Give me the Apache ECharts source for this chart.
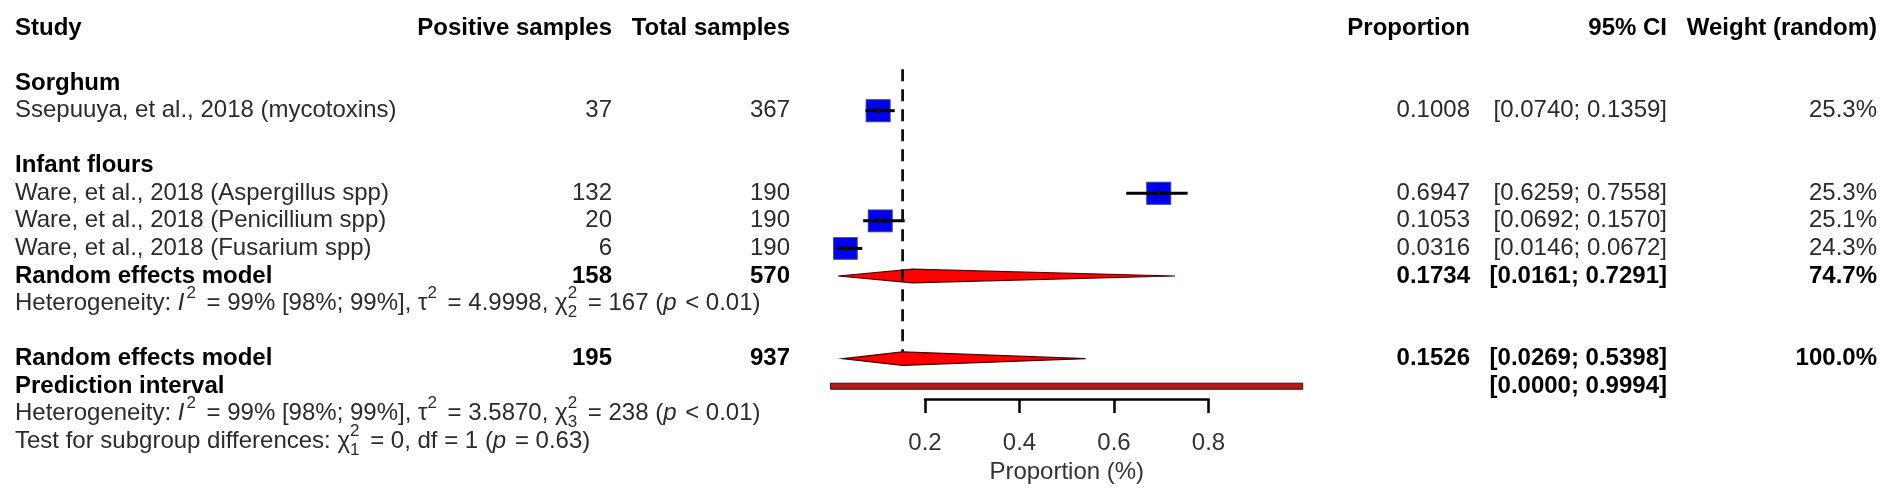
<!DOCTYPE html>
<html>
<head>
<meta charset="utf-8">
<script src="https://cdn.jsdelivr.net/npm/echarts@6/dist/echarts.min.js"></script>
<style>
  html, body { margin: 0; padding: 0; background: #fff; }
  #forest { width: 1902px; height: 490px; }
</style>
</head>
<body>
<div id="forest"></div>
<script>
// study level data
var studies = ['Ssepuuya, et al., 2018 (mycotoxins)', 'Ware, et al., 2018 (Aspergillus spp)',
  'Ware, et al., 2018 (Penicillium spp)', 'Ware, et al., 2018 (Fusarium spp)'];
var studyRows = [3, 6, 7, 8];
var positives = [37, 132, 20, 6];
var totals = [367, 190, 190, 190];
var proportions = [0.1008, 0.6947, 0.1053, 0.0316];
var ciLower = [0.0740, 0.6259, 0.0692, 0.0146];
var ciUpper = [0.1359, 0.7558, 0.1570, 0.0672];
var weights = [25.3, 25.3, 25.1, 24.3];

var subgroups = ['Sorghum', 'Infant flours'];
var subgroupRows = [2, 5];

// pooled (random effects) estimates: subgroup, overall
var pooledRows = [9, 12];
var pooledPositives = [158, 195];
var pooledTotals = [570, 937];
var pooledProp = [0.1734, 0.1526];
var pooledLower = [0.0161, 0.0269];
var pooledUpper = [0.7291, 0.5398];
var pooledWeights = [74.7, 100.0];

var predRow = 13;
var predLower = 0.0000;
var predUpper = 0.9994;

// heterogeneity lines (subgroup, overall)
var hetRows = [10, 14];
var hetI2 = ['99%', '99%'];
var hetI2ci = ['98%; 99%', '98%; 99%'];
var hetTau2 = ['4.9998', '3.5870'];
var hetChi = [167, 238];
var hetDf = [2, 3];
var subgroupTest = { row: 15, chi: 0, df: 1, p: '0.63' };

var headers = ['Study', 'Positive samples', 'Total samples', 'Proportion', '95% CI', 'Weight (random)'];
var xTicks = [0.2, 0.4, 0.6, 0.8];

// layout
var FONT = 'Liberation Sans';
var FS = 24, FS_SMALL = 17;
var PLOT_LEFT = 830.5, PLOT_W = 472.5;
var COL = { study: 15, pos: 612, tot: 790, prop: 1470, ci: 1667, weight: 1877 };

var ctx = document.createElement('canvas').getContext('2d');
function segFont(s) {
  var size = (s.k === 'sup' || s.k === 'sub' || s.k === 'ss') ? FS_SMALL : FS;
  return {
    fontSize: size,
    fontWeight: s.b ? 'bold' : 'normal',
    fontStyle: s.k === 'i' ? 'italic' : 'normal'
  };
}
function segWidth(s) {
  var f = segFont(s);
  ctx.font = f.fontStyle + ' ' + f.fontWeight + ' ' + f.fontSize + 'px "' + FONT + '"';
  var w = s.k === 'ss'
    ? Math.max(ctx.measureText(s.t[0]).width, ctx.measureText(s.t[1]).width)
    : ctx.measureText(s.t).width;
  return w + (s.pad || 0);
}

var lines = [];
function addLine(row, x, align, segs, bold) {
  segs.forEach(function (s) { s.b = !!bold; });
  lines.push({ row: row, x: x, align: align, segs: segs });
}
function n(t) { return { t: t, k: 'n' }; }
function it(t) { return { t: t, k: 'i', pad: 2 }; }
function sup(t) { return { t: t, k: 'sup', pad: 4 }; }
function supsub(a, b) { return { t: [a, b], k: 'ss', pad: 4 }; }
function fmt(v) { return v.toFixed(4); }
function ci(lo, hi) { return '[' + fmt(lo) + '; ' + fmt(hi) + ']'; }

// header row
var headerCols = [COL.study, COL.pos, COL.tot, COL.prop, COL.ci, COL.weight];
headers.forEach(function (h, i) {
  addLine(0, headerCols[i], i === 0 ? 'left' : 'right', [n(h)], true);
});
subgroups.forEach(function (g, i) { addLine(subgroupRows[i], COL.study, 'left', [n(g)], true); });
studies.forEach(function (s, i) {
  var r = studyRows[i];
  addLine(r, COL.study, 'left', [n(s)]);
  addLine(r, COL.pos, 'right', [n(String(positives[i]))]);
  addLine(r, COL.tot, 'right', [n(String(totals[i]))]);
  addLine(r, COL.prop, 'right', [n(fmt(proportions[i]))]);
  addLine(r, COL.ci, 'right', [n(ci(ciLower[i], ciUpper[i]))]);
  addLine(r, COL.weight, 'right', [n(weights[i].toFixed(1) + '%')]);
});
pooledRows.forEach(function (r, i) {
  addLine(r, COL.study, 'left', [n('Random effects model')], true);
  addLine(r, COL.pos, 'right', [n(String(pooledPositives[i]))], true);
  addLine(r, COL.tot, 'right', [n(String(pooledTotals[i]))], true);
  addLine(r, COL.prop, 'right', [n(fmt(pooledProp[i]))], true);
  addLine(r, COL.ci, 'right', [n(ci(pooledLower[i], pooledUpper[i]))], true);
  addLine(r, COL.weight, 'right', [n(pooledWeights[i].toFixed(1) + '%')], true);
});
addLine(predRow, COL.study, 'left', [n('Prediction interval')], true);
addLine(predRow, COL.ci, 'right', [n(ci(predLower, predUpper))], true);
hetRows.forEach(function (r, i) {
  addLine(r, COL.study, 'left', [
    n('Heterogeneity: '), it('I'), sup('2'),
    n(' = ' + hetI2[i] + ' [' + hetI2ci[i] + '], \u03c4'), sup('2'),
    n(' = ' + hetTau2[i] + ', \u03c7'), supsub('2', String(hetDf[i])),
    n(' = ' + hetChi[i] + ' ('), it('p'), n(' < 0.01)')
  ]);
});
addLine(subgroupTest.row, COL.study, 'left', [
  n('Test for subgroup differences: \u03c7'), supsub('2', String(subgroupTest.df)),
  n(' = ' + subgroupTest.chi + ', df = ' + subgroupTest.df + ' ('), it('p'),
  n(' = ' + subgroupTest.p + ')')
]);

function textEl(x, y, t, f, color) {
  return {
    type: 'text', x: x, y: y,
    style: {
      text: t, fontFamily: FONT, fontSize: f.fontSize, fontWeight: f.fontWeight,
      fontStyle: f.fontStyle, fill: color, align: 'left', verticalAlign: 'middle'
    }
  };
}

function renderTable(params, api) {
  var line = lines[api.value(2)];
  var y = api.coord([0, api.value(1)])[1];
  var total = 0;
  line.segs.forEach(function (s) { total += segWidth(s); });
  var x = line.align === 'right' ? line.x - total : line.x;
  var children = [];
  line.segs.forEach(function (s) {
    var f = segFont(s);
    var color = s.b ? '#000' : '#2b2b2b';
    if (s.k === 'sup') children.push(textEl(x, y - 10, s.t, f, color));
    else if (s.k === 'sub') children.push(textEl(x, y + 9, s.t, f, color));
    else if (s.k === 'ss') {
      children.push(textEl(x, y - 10, s.t[0], f, color));
      children.push(textEl(x, y + 9, s.t[1], f, color));
    } else children.push(textEl(x, y, s.t, f, color));
    x += segWidth(s);
  });
  return { type: 'group', children: children };
}

function renderCI(params, api) {
  var a = api.coord([api.value(0), api.value(2)]);
  var b = api.coord([api.value(1), api.value(2)]);
  var c = api.coord([api.value(3), api.value(2)]);
  return {
    type: 'group', children: [
      { type: 'line', shape: { x1: a[0], y1: a[1], x2: b[0], y2: b[1] }, style: { stroke: '#000', lineWidth: 3 } },
      { type: 'circle', shape: { cx: c[0], cy: c[1], r: 2.5 }, style: { fill: '#111' } }
    ]
  };
}

var DIAMOND_H = 6.8;
function renderDiamond(params, api) {
  var row = api.value(3);
  var lo = api.coord([api.value(0), row]);
  var est = api.coord([api.value(1), row]);
  var hi = api.coord([api.value(2), row]);
  return {
    type: 'polygon',
    shape: { points: [[lo[0], lo[1]], [est[0], est[1] - DIAMOND_H], [hi[0], hi[1]], [est[0], est[1] + DIAMOND_H]] },
    style: { fill: '#ff0000', stroke: '#4a0000', lineWidth: 1.2 }
  };
}

function renderPred(params, api) {
  var a = api.coord([api.value(0), api.value(2)]);
  var b = api.coord([api.value(1), api.value(2)]);
  return {
    type: 'rect',
    shape: { x: a[0], y: a[1] - 3, width: b[0] - a[0], height: 6 },
    style: { fill: '#b01c1c', stroke: '#4a0808', lineWidth: 1 }
  };
}

function renderRef(params, api) {
  var top = api.coord([api.value(0), api.value(1)]);
  var bot = api.coord([api.value(0), api.value(2)]);
  return {
    type: 'line',
    shape: { x1: top[0], y1: top[1], x2: bot[0], y2: bot[1] - DIAMOND_H },
    style: { stroke: '#111', lineWidth: 2.8, lineDash: [12, 8] }
  };
}

var chart = echarts.init(document.getElementById('forest'), null, { renderer: 'canvas' });
chart.setOption({
  animation: false,
  backgroundColor: '#fff',
  grid: [
    { left: PLOT_LEFT, width: PLOT_W, top: 28, height: 413.3 },
    { left: PLOT_LEFT + 0.2 * PLOT_W, width: 0.6 * PLOT_W, top: 398, height: 1 }
  ],
  xAxis: [
    { gridIndex: 0, type: 'value', min: 0, max: 1, show: false },
    {
      gridIndex: 1, type: 'value', min: xTicks[0], max: xTicks[xTicks.length - 1], interval: 0.2,
      position: 'bottom',
      axisLine: { lineStyle: { color: '#000', width: 2.5 } },
      axisTick: { length: 14, lineStyle: { color: '#000', width: 2.5 } },
      splitLine: { show: false },
      axisLabel: { fontFamily: FONT, fontSize: FS, color: '#333', margin: 32, formatter: function (v) { return v.toFixed(1); } },
      name: 'Proportion (%)', nameLocation: 'middle', nameGap: 61,
      nameTextStyle: { fontFamily: FONT, fontSize: FS, color: '#333' }
    }
  ],
  yAxis: [
    { gridIndex: 0, type: 'value', min: 0, max: 15, inverse: true, show: false },
    { gridIndex: 1, type: 'value', min: 0, max: 1, show: false }
  ],
  series: [
    {
      type: 'custom', name: 'prediction', xAxisIndex: 0, yAxisIndex: 0, z: 2,
      renderItem: renderPred, encode: { x: [0, 1], y: 2 },
      data: [[predLower, predUpper, predRow]]
    },
    {
      type: 'custom', name: 'pooled', xAxisIndex: 0, yAxisIndex: 0, z: 3,
      renderItem: renderDiamond, encode: { x: [0, 1, 2], y: 3 },
      data: pooledRows.map(function (r, i) { return [pooledLower[i], pooledProp[i], pooledUpper[i], r]; })
    },
    {
      type: 'scatter', name: 'studies', xAxisIndex: 0, yAxisIndex: 0, z: 4,
      symbol: 'rect',
      symbolSize: function (v) { var s = Math.sqrt(v[2] / 25.3); return [24 * s, 22 * s]; },
      itemStyle: { color: '#0000ee', borderColor: '#3a3a9a', borderWidth: 1, opacity: 1 },
      data: studies.map(function (s, i) { return [proportions[i], studyRows[i], weights[i]]; })
    },
    {
      type: 'custom', name: 'ci', xAxisIndex: 0, yAxisIndex: 0, z: 5,
      renderItem: renderCI, encode: { x: [0, 1], y: 2 },
      data: studies.map(function (s, i) { return [ciLower[i], ciUpper[i], studyRows[i], proportions[i]]; })
    },
    {
      type: 'custom', name: 'reference', xAxisIndex: 0, yAxisIndex: 0, z: 6,
      renderItem: renderRef, encode: { x: 0, y: [1, 2] },
      data: [[pooledProp[1], 1.5, pooledRows[1]]]
    },
    {
      type: 'custom', name: 'table', xAxisIndex: 0, yAxisIndex: 0, z: 7, silent: true,
      renderItem: renderTable, encode: { x: 0, y: 1 },
      data: lines.map(function (l, i) { return [0, l.row, i]; })
    }
  ]
});
</script>
</body>
</html>
